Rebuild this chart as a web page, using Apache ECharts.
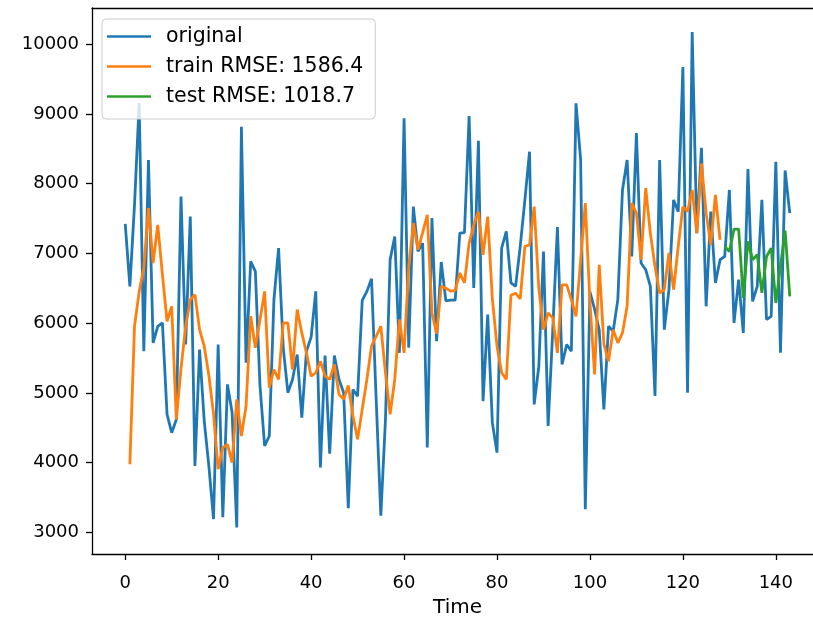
<!DOCTYPE html>
<html>
<head>
<meta charset="utf-8">
<title>RMSE chart</title>
<script src="https://cdn.jsdelivr.net/npm/echarts@6.0.0/dist/echarts.min.js"></script>
<style>
    html, body { margin: 0; padding: 0; background: #fff; }
    #main { width: 813px; height: 617px; }
</style>
</head>
<body>
<div id="main"></div>
<script>
// values, index = time step
const original = [
    7425, 6528, 7700, 9155, 5598, 8341, 5718, 5955, 6004, 4692,
    4430, 4620, 7815, 5694, 7529, 3953, 5622, 4600, 3950, 3190,
    5694, 3218, 5122, 4720, 3072, 8817, 5432, 6886, 6743, 5100,
    4239, 4382, 6338, 7077, 5650, 5003, 5193, 5550, 4645, 5600,
    5800, 6456, 3930, 5537, 4130, 5537, 5193, 5003, 3348, 5050,
    4954, 6328, 6456, 6638, 4907, 3238, 4621, 6910, 7243, 5575,
    8937, 5650, 7672, 7029, 7149, 4216, 7507, 5741, 6877, 6320,
    6330, 6330, 7292, 7300, 8970, 6505, 8617, 4883, 6123, 4574,
    4144, 7077, 7315, 6577, 6528, 7100, 7768, 8459, 4835, 5383,
    7029, 4525, 5900, 7378, 5408, 5694, 5598, 9152, 8341, 3333,
    6450, 6200, 5900, 4764, 5956, 5885, 6338, 7911, 8340, 6957,
    8725, 6863, 6767, 6528, 4955, 8340, 5908, 6481, 7768, 7600,
    9675, 5003, 10175, 7292, 8515, 6242, 7600, 6577, 6910, 6957,
    7911, 6004, 6624, 5861, 8210, 6313, 6528, 7768, 6052, 6099,
    8316, 5575, 8190, 7577
];
const trainStart = 1;
const trainPredict = [
    3977, 5956, 6450, 6800, 7650, 6863, 7410, 6700, 6027, 6242,
    4621, 5350, 5950, 6338, 6410, 5908, 5670, 5250, 4700, 3906,
    4216, 4263, 4001, 4907, 4382, 4811, 6099, 5647, 6050, 6456,
    5074, 5336, 5193, 6004, 6004, 5336, 6195, 5861, 5575, 5240,
    5289, 5455, 5240, 5193, 5408, 4979, 4907, 5107, 4669, 4335,
    4764, 5193, 5670, 5813, 5956, 5289, 4692, 5193, 6052, 5575,
    6800, 7436, 7053, 7300, 7554, 6150, 5850, 6530, 6500, 6460,
    6470, 6720, 6577, 7149, 7410, 7600, 6981, 7529, 6350, 5670,
    5289, 5193, 6400, 6430, 6350, 7100, 7124, 7672, 6500, 5908,
    6147, 6076, 5575, 6550, 6550, 6338, 6099, 6900, 7722, 6300,
    5265, 6838, 5700, 5455, 5908, 5718, 5861, 6242, 7722, 7578,
    6910, 7936, 7292, 6814, 6433, 6481, 7006, 6481, 7100, 7672,
    7600, 7911, 7292, 8290, 7578, 7124, 7840, 7196
];
const testStart = 129;
const testPredict = [
    7102, 7029, 7349, 7349, 6362, 7172, 6910, 6981, 6434, 6957,
    7077, 6290, 6814, 7329, 6385
];
const xTicks = [0, 20, 40, 60, 80, 100, 120, 140];
const yTicks = [3000, 4000, 5000, 6000, 7000, 8000, 9000, 10000];
const names = ['original', 'train RMSE: 1586.4', 'test RMSE: 1018.7'];

function toPoints(arr, start) {
    return arr.map(function (v, i) { return [start + i, v]; });
}

let myChart = echarts.init(document.getElementById('main'));
const font = 'DejaVu Sans';
const spine = { color: '#000', width: 1.3 };

let option = {
    animation: false,
    backgroundColor: '#fff',
    grid: {
        left: 92,
        top: 8,
        width: 731,   // right spine falls just outside the picture
        height: 546,
        outerBoundsMode: 'none'
    },
    legend: {
        orient: 'vertical',
        left: 102,
        top: 19,
        padding: [7, 12, 12, 5],
        itemGap: 9,
        itemWidth: 44,
        itemHeight: 2.6,
        icon: 'rect',
        backgroundColor: 'rgba(255,255,255,0.8)',
        borderColor: '#cccccc',
        borderWidth: 1,
        borderRadius: 4,
        data: names,
        textStyle: {
            fontFamily: font,
            fontSize: 20.5,
            color: '#000',
            padding: [0, 0, 0, 10]
        }
    },
    xAxis: [
        {
            type: 'value',
            min: -7.15,
            max: 150.15,
            name: 'Time',
            nameLocation: 'middle',
            nameGap: 44,
            nameTextStyle: { fontFamily: font, fontSize: 20, color: '#000' },
            splitLine: { show: false },
            axisLine: { onZero: false, lineStyle: spine },
            axisTick: { length: 6, lineStyle: spine, customValues: xTicks },
            axisLabel: { fontFamily: font, fontSize: 18, color: '#000', margin: 20, customValues: xTicks }
        },
        {
            // top spine only
            type: 'value',
            position: 'top',
            min: -7.15,
            max: 150.15,
            splitLine: { show: false },
            axisLine: { show: true, onZero: false, lineStyle: spine },
            axisTick: { show: false },
            axisLabel: { show: false }
        }
    ],
    yAxis: {
        type: 'value',
        min: 2690,
        max: 10520,
        splitLine: { show: false },
        axisLine: { show: true, onZero: false, lineStyle: spine },
        axisTick: { show: true, length: 6, lineStyle: spine, customValues: yTicks },
        axisLabel: {
            fontFamily: font, fontSize: 18, color: '#000', margin: 13, customValues: yTicks,
            formatter: function (v) { return String(v); }
        }
    },
    series: [
        {
            name: names[0],
            type: 'line',
            showSymbol: false,
            data: toPoints(original, 0),
            color: '#1f77b4',
            lineStyle: { width: 2.8 }
        },
        {
            name: names[1],
            type: 'line',
            showSymbol: false,
            data: toPoints(trainPredict, trainStart),
            color: '#ff7f0e',
            lineStyle: { width: 2.8 }
        },
        {
            name: names[2],
            type: 'line',
            showSymbol: false,
            data: toPoints(testPredict, testStart),
            color: '#2ca02c',
            lineStyle: { width: 2.8 }
        }
    ]
};
myChart.setOption(option);
window.addEventListener('resize', function () {
    myChart.resize();
});
</script>
</body>
</html>
